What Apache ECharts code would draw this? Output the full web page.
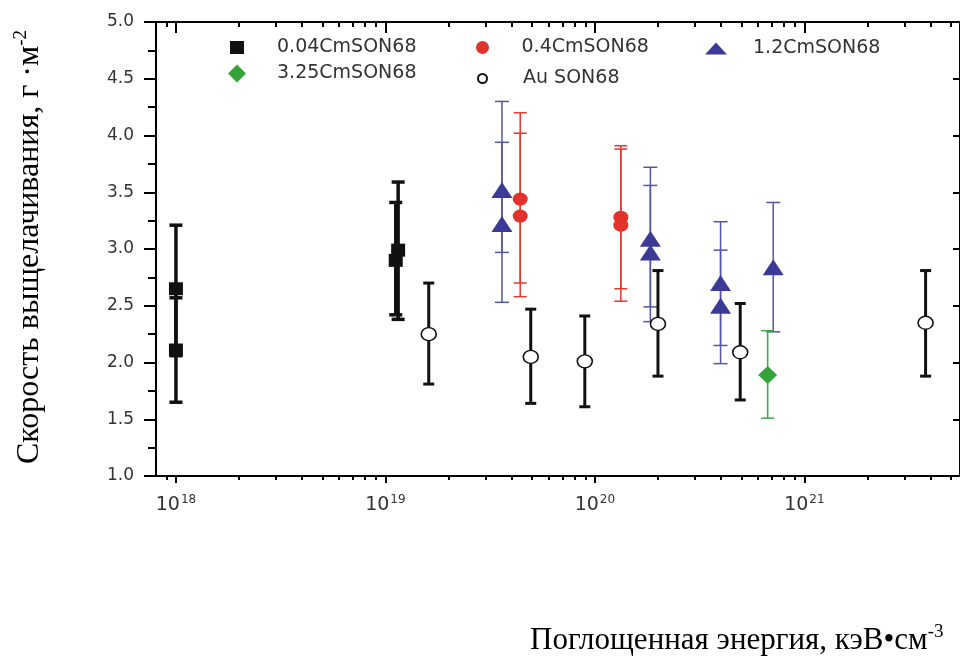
<!DOCTYPE html>
<html>
<head>
<meta charset="utf-8">
<script src="https://cdn.jsdelivr.net/npm/echarts@6.0.0/dist/echarts.min.js"></script>
<style>
  html, body { margin: 0; padding: 0; background: #fff; }
  #main { width: 960px; height: 664px; }
</style>
</head>
<body>
<div id="main"></div>
<script>
var myChart = echarts.init(document.getElementById('main'));

// 0.04CmSON68 - black squares
var sqX = [1.0e18, 1.0e18, 1.15e19, 1.12e19];
var sqY = [2.65, 2.11, 2.99, 2.90];
var sqLo = [2.06, 1.65, 2.38, 2.42];
var sqHi = [3.21, 2.57, 3.59, 3.41];

// 0.4CmSON68 - red circles
var redX = [4.4e19, 4.4e19, 1.33e20, 1.33e20];
var redY = [3.44, 3.29, 3.28, 3.21];
var redLo = [2.70, 2.58, 2.65, 2.54];
var redHi = [4.20, 4.02, 3.91, 3.88];

// 1.2CmSON68 - blue triangles
var triX = [3.6e19, 3.6e19, 1.84e20, 1.84e20, 3.98e20, 3.98e20, 7.1e20];
var triY = [3.52, 3.22, 3.09, 2.97, 2.70, 2.50, 2.84];
var triLo = [2.97, 2.53, 2.49, 2.36, 2.15, 1.99, 2.27];
var triHi = [4.30, 3.94, 3.72, 3.56, 3.24, 2.99, 3.41];

// 3.25CmSON68 - green diamond
var diaX = [6.68e20];
var diaY = [1.89];
var diaLo = [1.51];
var diaHi = [2.28];

// Au SON68 - open circles
var auX = [1.61e19, 4.94e19, 8.95e19, 2.0e20, 4.94e20, 3.79e21];
var auY = [2.25, 2.05, 2.01, 2.34, 2.09, 2.35];
var auLo = [1.81, 1.64, 1.61, 1.88, 1.67, 1.88];
var auHi = [2.70, 2.47, 2.41, 2.81, 2.52, 2.81];

// axis ticks
var majorTicks = [1e18, 1e19, 1e20, 1e21];
var minorTicks = [];
for (var d = 17; d <= 21; d++) {
    for (var k = 2; k <= 9; k++) {
        minorTicks.push(k * Math.pow(10, d));
    }
}
var xMin = Math.pow(10, 17.9048);
var xMax = Math.pow(10, 21.7429);

function points(xs, ys) {
    return xs.map(function (x, i) { return [x, ys[i]]; });
}
function bars(xs, lo, hi) {
    return xs.map(function (x, i) { return [x, lo[i], hi[i]]; });
}

function errorBars(capW, lw, color) {
    return function (params, api) {
        var x = api.value(0);
        var p1 = api.coord([x, api.value(1)]);
        var p2 = api.coord([x, api.value(2)]);
        var style = {stroke: color, lineWidth: lw};
        return {
            type: 'group',
            children: [
                {type: 'line', shape: {x1: p1[0], y1: p1[1], x2: p2[0], y2: p2[1]}, style: style},
                {type: 'line', shape: {x1: p1[0] - capW / 2, y1: p1[1], x2: p1[0] + capW / 2, y2: p1[1]}, style: style},
                {type: 'line', shape: {x1: p2[0] - capW / 2, y1: p2[1], x2: p2[0] + capW / 2, y2: p2[1]}, style: style}
            ]
        };
    };
}

function barSeries(name, data, capW, lw, color) {
    return {
        name: name,
        type: 'custom',
        renderItem: errorBars(capW, lw, color),
        encode: {x: 0, y: [1, 2]},
        z: 2,
        silent: true,
        data: data
    };
}

function legendItem(name, icon, left, top, w, h, pad) {
    return {
        data: [{name: name, icon: icon}],
        left: left,
        top: top,
        padding: 0,
        itemWidth: w,
        itemHeight: h,
        textStyle: {
            fontFamily: 'DejaVu Sans',
            fontSize: 19,
            color: '#333',
            padding: [0, 0, 0, pad]
        }
    };
}

var axisBlack = {color: '#000', width: 2};

option = {
    backgroundColor: '#fff',
    animation: false,
    grid: {left: 156, right: -2, top: 22, bottom: 188},
    legend: [
        legendItem('0.04CmSON68', 'rect', 230, 38, 14, 13, 28),
        legendItem('0.4CmSON68', 'circle', 476, 38, 14, 13, 27),
        legendItem('1.2CmSON68', 'triangle', 705, 39, 22, 12, 21),
        legendItem('3.25CmSON68', 'diamond', 228, 64, 18, 18, 26),
        legendItem('Au SON68', 'circle', 477, 69, 9, 9, 31)
    ],
    xAxis: [
        {
            type: 'log', position: 'bottom', min: xMin, max: xMax,
            axisLine: {onZero: false, lineStyle: axisBlack},
            axisTick: {customValues: majorTicks, length: 7, lineStyle: axisBlack},
            axisLabel: {
                customValues: majorTicks,
                margin: 18,
                color: '#333',
                fontFamily: 'DejaVu Sans',
                fontSize: 19,
                formatter: function (v) {
                    return '10{sup|' + Math.round(Math.log(v) / Math.LN10) + '}';
                },
                rich: {
                    sup: {fontFamily: 'DejaVu Sans', fontSize: 12, color: '#333', verticalAlign: 'bottom', padding: [0, 0, 10, 1]}
                }
            },
            splitLine: {show: false}
        },
        {
            type: 'log', position: 'bottom', min: xMin, max: xMax,
            axisLine: {show: false, onZero: false},
            axisTick: {customValues: minorTicks, length: 4, lineStyle: axisBlack},
            axisLabel: {show: false},
            splitLine: {show: false}
        },
        {
            type: 'log', position: 'top', min: xMin, max: xMax,
            axisLine: {onZero: false, lineStyle: axisBlack},
            axisTick: {customValues: majorTicks, inside: true, length: 11, lineStyle: axisBlack},
            axisLabel: {show: false},
            splitLine: {show: false}
        },
        {
            type: 'log', position: 'top', min: xMin, max: xMax,
            axisLine: {show: false, onZero: false},
            axisTick: {customValues: minorTicks, inside: true, length: 5, lineStyle: axisBlack},
            axisLabel: {show: false},
            splitLine: {show: false}
        }
    ],
    yAxis: [
        {
            type: 'value', position: 'left', min: 1, max: 5, interval: 0.5,
            axisLine: {show: true, onZero: false, lineStyle: axisBlack},
            axisTick: {length: 12, lineStyle: axisBlack},
            minorTick: {show: true, splitNumber: 2, length: 8, lineStyle: axisBlack},
            axisLabel: {
                margin: 22, color: '#333', fontFamily: 'DejaVu Sans', fontSize: 17,
                formatter: function (v) { return v.toFixed(1); }
            },
            splitLine: {show: false}
        },
        {
            type: 'value', position: 'right', min: 1, max: 5, interval: 0.5,
            axisLine: {show: true, onZero: false, lineStyle: axisBlack},
            axisTick: {inside: true, length: 7, lineStyle: axisBlack},
            axisLabel: {show: false},
            splitLine: {show: false}
        }
    ],
    graphic: [
        {
            type: 'text',
            x: 30, y: 247,
            rotation: Math.PI / 2,
            style: {
                text: 'Скорость выщелачивания, г ·м{sup|-2}',
                fontFamily: 'Liberation Serif',
                fontSize: 32,
                fill: '#000',
                align: 'center',
                verticalAlign: 'middle',
                rich: {
                    sup: {fontFamily: 'Liberation Serif', fontSize: 19, fill: '#000', verticalAlign: 'bottom', padding: [0, 0, 17, 0]}
                }
            }
        },
        {
            type: 'text',
            x: 530, y: 659,
            style: {
                text: 'Поглощенная энергия, кэВ•см{sup|-3}',
                fontFamily: 'Liberation Serif',
                fontSize: 31,
                fill: '#000',
                align: 'left',
                verticalAlign: 'bottom',
                rich: {
                    sup: {fontFamily: 'Liberation Serif', fontSize: 19, fill: '#000', verticalAlign: 'bottom', padding: [0, 0, 17, 0]}
                }
            }
        }
    ],
    series: [
        {name: '0.04CmSON68', type: 'scatter', symbol: 'rect', symbolSize: [14, 13], z: 3,
            itemStyle: {color: '#111', opacity: 1}, data: points(sqX, sqY)},
        {name: '0.4CmSON68', type: 'scatter', symbol: 'circle', symbolSize: [15, 13], z: 3,
            itemStyle: {color: '#e3312b', opacity: 1}, data: points(redX, redY)},
        {name: '1.2CmSON68', type: 'scatter', symbol: 'triangle', symbolSize: [21, 16], z: 3,
            itemStyle: {color: '#3b3b97', opacity: 1}, data: points(triX, triY)},
        {name: '3.25CmSON68', type: 'scatter', symbol: 'diamond', symbolSize: [19, 18], z: 3,
            itemStyle: {color: '#35a338', opacity: 1}, data: points(diaX, diaY)},
        {name: 'Au SON68', type: 'scatter', symbol: 'circle', symbolSize: [15, 13], z: 3,
            itemStyle: {color: '#fff', borderColor: '#111', borderWidth: 1.5, opacity: 1}, data: points(auX, auY)},
        barSeries('0.04CmSON68', bars(sqX, sqLo, sqHi), 13, 3.5, '#111'),
        barSeries('0.4CmSON68', bars(redX, redLo, redHi), 13, 1.5, '#e2392f'),
        barSeries('1.2CmSON68', bars(triX, triLo, triHi), 14, 1.5, '#5555a8'),
        barSeries('3.25CmSON68', bars(diaX, diaLo, diaHi), 13, 1.5, '#3aaa3c'),
        barSeries('Au SON68', bars(auX, auLo, auHi), 11, 3, '#111')
    ]
};

myChart.setOption(option);
</script>
</body>
</html>
